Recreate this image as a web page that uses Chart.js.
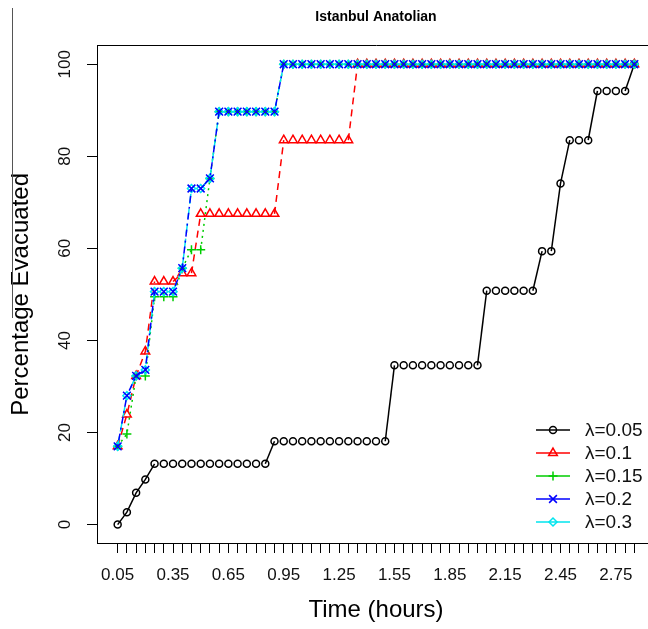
<!DOCTYPE html>
<html lang="en">
<head>
<meta charset="UTF-8">
<title>Istanbul Anatolian</title>
<script src="https://cdn.jsdelivr.net/npm/chart.js"></script>
<style>
  html, body { margin: 0; padding: 0; background: #fff; overflow: hidden; }
  #wrap { position: relative; width: 662px; height: 629px; }
  #edge { position: absolute; left: 12px; top: 8px; width: 0; height: 310px; border-left: 1px solid #555; }
</style>
</head>
<body>
<div id="wrap">
  <canvas id="chart" width="662" height="629"></canvas>
  <div id="edge"></div>
</div>
<script>
  // time axis (hours), one point every 0.05 h
  const times = [
    0.05, 0.1, 0.15, 0.2, 0.25, 0.3, 0.35, 0.4, 0.45, 0.5,
    0.55, 0.6, 0.65, 0.7, 0.75, 0.8, 0.85, 0.9, 0.95, 1.0,
    1.05, 1.1, 1.15, 1.2, 1.25, 1.3, 1.35, 1.4, 1.45, 1.5,
    1.55, 1.6, 1.65, 1.7, 1.75, 1.8, 1.85, 1.9, 1.95, 2.0,
    2.05, 2.1, 2.15, 2.2, 2.25, 2.3, 2.35, 2.4, 2.45, 2.5,
    2.55, 2.6, 2.65, 2.7, 2.75, 2.8, 2.85
  ];
  const xTickLabels = ['0.05', '0.35', '0.65', '0.95', '1.25', '1.55', '1.85', '2.15', '2.45', '2.75'];
  const yTicks = [0, 20, 40, 60, 80, 100];

  const lambda005 = [
    0, 2.7, 6.9, 9.8, 13.2, 13.2, 13.2, 13.2, 13.2, 13.2,
    13.2, 13.2, 13.2, 13.2, 13.2, 13.2, 13.2, 18.1, 18.1, 18.1,
    18.1, 18.1, 18.1, 18.1, 18.1, 18.1, 18.1, 18.1, 18.1, 18.1,
    34.6, 34.6, 34.6, 34.6, 34.6, 34.6, 34.6, 34.6, 34.6, 34.6,
    50.8, 50.8, 50.8, 50.8, 50.8, 50.8, 59.4, 59.4, 74.1, 83.5,
    83.5, 83.5, 94.2, 94.2, 94.2, 94.2, 100
  ];
  const lambda01 = [
    17.0, 23.9, 32.3, 37.6, 52.8, 52.8, 52.8, 54.6, 54.6, 67.5,
    67.5, 67.5, 67.5, 67.5, 67.5, 67.5, 67.5, 67.5, 83.5, 83.5,
    83.5, 83.5, 83.5, 83.5, 83.5, 83.5, 100, 100, 100, 100,
    100, 100, 100, 100, 100, 100, 100, 100, 100, 100,
    100, 100, 100, 100, 100, 100, 100, 100, 100, 100,
    100, 100, 100, 100, 100, 100, 100
  ];
  const lambda015 = [
    17.0, 19.7, 32.3, 32.3, 49.5, 49.5, 49.5, 55.7, 59.7, 59.7,
    75.2, 89.7, 89.7, 89.7, 89.7, 89.7, 89.7, 89.7, 100, 100,
    100, 100, 100, 100, 100, 100, 100, 100, 100, 100,
    100, 100, 100, 100, 100, 100, 100, 100, 100, 100,
    100, 100, 100, 100, 100, 100, 100, 100, 100, 100,
    100, 100, 100, 100, 100, 100, 100
  ];
  const lambda02 = [
    17.0, 28.0, 32.3, 33.6, 50.6, 50.6, 50.6, 55.7, 73.0, 73.0,
    75.2, 89.7, 89.7, 89.7, 89.7, 89.7, 89.7, 89.7, 100, 100,
    100, 100, 100, 100, 100, 100, 100, 100, 100, 100,
    100, 100, 100, 100, 100, 100, 100, 100, 100, 100,
    100, 100, 100, 100, 100, 100, 100, 100, 100, 100,
    100, 100, 100, 100, 100, 100, 100
  ];
  const lambda03 = [
    17.0, 28.0, 32.3, 33.6, 50.6, 50.6, 50.6, 55.7, 73.0, 73.0,
    75.2, 89.7, 89.7, 89.7, 89.7, 89.7, 89.7, 89.7, 100, 100,
    100, 100, 100, 100, 100, 100, 100, 100, 100, 100,
    100, 100, 100, 100, 100, 100, 100, 100, 100, 100,
    100, 100, 100, 100, 100, 100, 100, 100, 100, 100,
    100, 100, 100, 100, 100, 100, 100
  ];

  const FONT = '"Liberation Sans", Arial, sans-serif';

  // R type="b": no line between points on the same level
  function series(label, data, color, style, radius, dash, order) {
    return {
      label, data, order,
      borderColor: color,
      borderWidth: 1.5,
      borderDash: dash,
      pointStyle: style,
      pointRadius: radius,
      pointHoverRadius: radius,
      pointBorderColor: color,
      pointBorderWidth: 1.5,
      pointBackgroundColor: 'rgba(0,0,0,0)',
      fill: false,
      tension: 0,
      segment: {
        borderColor: c => c.p0.parsed.y === c.p1.parsed.y ? 'rgba(0,0,0,0)' : color
      }
    };
  }

  const cornerLegend = {
    id: 'cornerLegend',
    afterDraw(chart) {
      const ctx = chart.ctx, area = chart.chartArea;
      const x0 = area.right - 119, y0 = area.bottom - 113;
      ctx.save();
      chart.data.datasets.forEach((ds, k) => {
        const y = y0 + k * 23;
        ctx.setLineDash([]);
        ctx.strokeStyle = ds.borderColor;
        ctx.lineWidth = 1.5;
        ctx.beginPath(); ctx.moveTo(x0, y); ctx.lineTo(x0 + 34, y); ctx.stroke();
        ctx.fillStyle = 'rgba(0,0,0,0)';
        if (Chart.helpers && Chart.helpers.drawPoint) {
          Chart.helpers.drawPoint(ctx, { pointStyle: ds.pointStyle, radius: ds.pointRadius, borderWidth: 1.5, rotation: 0 }, x0 + 17, y);
        }
        ctx.fillStyle = '#111';
        ctx.font = '19px ' + FONT;
        ctx.textBaseline = 'middle';
        ctx.textAlign = 'left';
        ctx.fillText(ds.label, x0 + 49, y + 1);
      });
      ctx.restore();
    }
  };

  new Chart(document.getElementById('chart'), {
    type: 'line',
    data: {
      labels: times,
      datasets: [
        series('λ=0.05', lambda005, '#000000', 'circle', 3.5, [], 4),
        series('λ=0.1', lambda01, '#FF0000', 'triangle', 5, [7, 5], 3),
        series('λ=0.15', lambda015, '#00CD00', 'cross', 4.5, [2, 4], 2),
        series('λ=0.2', lambda02, '#0000FF', 'crossRot', 5.5, [2, 4, 7, 4], 0),
        series('λ=0.3', lambda03, '#00E5EE', 'rectRot', 4, [10, 5], 1)
      ]
    },
    options: {
      responsive: false,
      animation: false,
      events: [],
      layout: { padding: { left: 0, top: 0, right: 5, bottom: 0 } },
      plugins: {
        legend: { display: false },
        tooltip: { enabled: false },
        title: {
          display: true,
          text: 'Istanbul Anatolian',
          fullSize: false,
          color: '#000',
          font: { family: FONT, size: 14, weight: 'bold' },
          padding: { top: 9, bottom: 20 }
        }
      },
      scales: {
        x: {
          type: 'linear',
          min: -0.062,
          max: 2.962,
          afterBuildTicks: s => { s.ticks = times.map(v => ({ value: v })); },
          afterFit: s => { s.height = 86; },
          ticks: {
            autoSkip: false, maxRotation: 0, minRotation: 0,
            color: '#111', padding: 12,
            font: { family: FONT, size: 17 },
            callback: v => { const t = v.toFixed(2); return xTickLabels.includes(t) ? t : ''; }
          },
          grid: { drawOnChartArea: false, drawTicks: true, tickLength: 10, color: '#000', lineWidth: 1 },
          border: { display: true, color: '#000', width: 1 },
          title: { display: true, text: 'Time (hours)', color: '#000', font: { family: FONT, size: 24 }, padding: { top: 4, bottom: 4 } }
        },
        x2: {
          type: 'linear',
          position: 'top',
          min: 0, max: 1,
          afterFit: s => { s.height = 0; },
          ticks: { display: false },
          grid: { drawOnChartArea: false, drawTicks: false },
          border: { display: true, color: '#000', width: 1 }
        },
        y: {
          type: 'linear',
          min: -4,
          max: 104,
          afterBuildTicks: s => { s.ticks = yTicks.map(v => ({ value: v })); },
          afterFit: s => { s.width = 97; },
          ticks: {
            color: '#111', padding: 8, minRotation: 90, maxRotation: 90, crossAlign: 'center',
            font: { family: FONT, size: 17 }
          },
          grid: { drawOnChartArea: false, drawTicks: true, tickLength: 10, color: '#000', lineWidth: 1 },
          border: { display: true, color: '#000', width: 1 },
          title: { display: true, text: 'Percentage Evacuated', color: '#000', font: { family: FONT, size: 24 }, padding: { top: 7, bottom: 7 } }
        }
      }
    },
    plugins: [cornerLegend]
  });
</script>
</body>
</html>
